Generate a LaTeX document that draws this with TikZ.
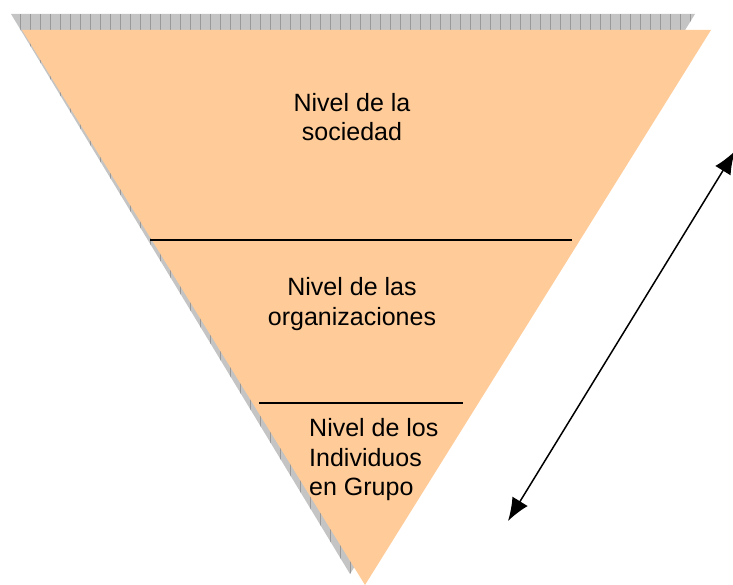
\documentclass[tikz,border=0pt]{standalone}
\usepackage{fontspec}
\setmainfont{Liberation Sans}
\usetikzlibrary{arrows.meta}
\definecolor{peach}{HTML}{FFCC99}
\definecolor{shadowgray}{HTML}{C4C4C4}
\definecolor{gridgray}{HTML}{999999}

\begin{document}
\begin{tikzpicture}[
   x=1pt,y=-1pt,
   font=\fontsize{25}{29.5}\selectfont,
   shadow/.style={fill=shadowgray},
   layer/.style={fill=peach},
   divider/.style={line width=1.3pt},
   label/.style={inner sep=0pt,align=center},
   both/.style={line width=1.5pt}]
\useasboundingbox (0,0) rectangle (733,585);
% shadow of the funnel
\fill[shadow] (11,14) -- (695,14) -- (350,574) -- cycle;
\begin{scope}
\clip (11,14) -- (695,14) -- (350,574) -- cycle;
\draw[gridgray,line width=0.7pt] (11,14) grid[xstep=10,ystep=8] (700,580);
\end{scope}
% funnel
\fill[layer] (22,30) -- (711,30) -- (365,585) -- cycle;
\coordinate (s1) at (150,240);
\coordinate (s2) at (572,240);
\coordinate (o1) at (259,403);
\coordinate (o2) at (463,403);
\draw[divider] (s1) -- (s2);
\draw[divider] (o1) -- (o2);
\node[label] (soc) at (352,117) {Nivel de la\\sociedad};
\node[label] (org) at (352,304) {Nivel de las\\organizaciones};
\node[label,align=left,anchor=west] (ind) at (309,460) {Nivel de los\\Individuos\\en Grupo};
% arrow
\coordinate (top) at (735,151);
\coordinate (bot) at (508,521);
\draw[both,{Latex[length=23pt,width=18pt]}-{Latex[length=23pt,width=18pt]}] (bot) -- (top);
\end{tikzpicture}
\end{document}
